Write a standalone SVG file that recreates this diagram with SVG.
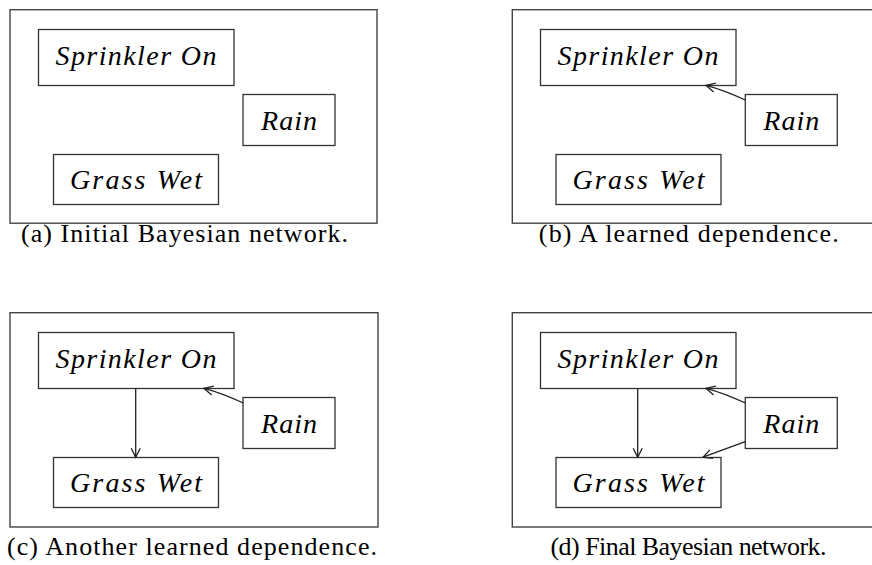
<svg xmlns="http://www.w3.org/2000/svg" width="872" height="565" viewBox="0 0 872 565">
  <style>
    .frame { fill: none; stroke: #444; stroke-width: 1.4; }
    .box { fill: #fff; stroke: #333; stroke-width: 1.3; }
    .lbl { font-family: "Liberation Serif", "DejaVu Serif", serif; font-style: italic; font-size: 28px; fill: #000; text-anchor: middle; }
    .cap { font-family: "Liberation Serif", "DejaVu Serif", serif; font-size: 26px; fill: #000; text-anchor: middle; }
    .edge { fill: none; stroke: #222; stroke-width: 1.3; marker-end: url(#vee); }
  </style>
  <defs>
    <marker id="vee" markerUnits="userSpaceOnUse" markerWidth="14" markerHeight="12" viewBox="-11 -6 13 12" refX="0" refY="0" orient="auto">
      <path d="M-9,-4.5 L0,0 L-9,4.5" fill="none" stroke="#222" stroke-width="1.3"/>
    </marker>
  </defs>

  <!-- (a) initial network -->
  <g id="panel-a">
    <rect class="frame" x="10" y="9.7" width="367" height="213.5"/>
    <g id="a-sprinkler"><rect class="box" x="38.5" y="29.5" width="195.5" height="56"/><text class="lbl" x="136" y="65" textLength="161" lengthAdjust="spacing">Sprinkler On</text></g>
    <g id="a-rain"><rect class="box" x="243" y="94.5" width="92" height="51"/><text class="lbl" x="289" y="130" textLength="56" lengthAdjust="spacing">Rain</text></g>
    <g id="a-grass"><rect class="box" x="53.5" y="154.5" width="165" height="50"/><text class="lbl" x="136" y="189" textLength="132" lengthAdjust="spacing">Grass Wet</text></g>
    <text class="cap" x="184.5" y="242" textLength="327" lengthAdjust="spacing">(a) Initial Bayesian network.</text>
  </g>

  <!-- (b) one learned dependence -->
  <g id="panel-b" transform="translate(502,0)">
    <rect class="frame" x="10.3" y="9.7" width="367" height="213.5"/>
    <g id="b-sprinkler"><rect class="box" x="38.5" y="29.5" width="195.5" height="56"/><text class="lbl" x="136" y="65" textLength="161" lengthAdjust="spacing">Sprinkler On</text></g>
    <g id="b-rain"><rect class="box" x="243.3" y="94.5" width="92" height="51"/><text class="lbl" x="289.3" y="130" textLength="56" lengthAdjust="spacing">Rain</text></g>
    <g id="b-grass"><rect class="box" x="54" y="154.5" width="165" height="50"/><text class="lbl" x="136.5" y="189" textLength="132" lengthAdjust="spacing">Grass Wet</text></g>
    <g class="connectors">
      <path class="edge" d="M243.3,100 Q222,90 204,85.3"/>
    </g>
    <text class="cap" x="186.8" y="242" textLength="300" lengthAdjust="spacing">(b) A learned dependence.</text>
  </g>

  <!-- (c) a second learned dependence -->
  <g id="panel-c" transform="translate(0,303)">
    <rect class="frame" x="10" y="9.7" width="368" height="214.3"/>
    <g id="c-sprinkler"><rect class="box" x="38.5" y="29.5" width="195.5" height="56"/><text class="lbl" x="136" y="65" textLength="161" lengthAdjust="spacing">Sprinkler On</text></g>
    <g id="c-rain"><rect class="box" x="243" y="94.5" width="92" height="51"/><text class="lbl" x="289" y="130" textLength="56" lengthAdjust="spacing">Rain</text></g>
    <g id="c-grass"><rect class="box" x="53.5" y="154.5" width="165" height="50"/><text class="lbl" x="136" y="189" textLength="132" lengthAdjust="spacing">Grass Wet</text></g>
    <g class="connectors">
      <path class="edge" d="M243.3,100 Q222,90 204,85.3"/>
      <path class="edge" d="M135.7,85.5 L135.7,154.2"/>
    </g>
    <text class="cap" x="192" y="252" textLength="370" lengthAdjust="spacing">(c) Another learned dependence.</text>
  </g>

  <!-- (d) final network -->
  <g id="panel-d" transform="translate(502,303)">
    <rect class="frame" x="10.3" y="9.7" width="368" height="214.3"/>
    <g id="d-sprinkler"><rect class="box" x="38.5" y="29.5" width="195.5" height="56"/><text class="lbl" x="136" y="65" textLength="161" lengthAdjust="spacing">Sprinkler On</text></g>
    <g id="d-rain"><rect class="box" x="243.3" y="94.5" width="92" height="51"/><text class="lbl" x="289.3" y="130" textLength="56" lengthAdjust="spacing">Rain</text></g>
    <g id="d-grass"><rect class="box" x="54" y="154.5" width="165" height="50"/><text class="lbl" x="136.5" y="189" textLength="132" lengthAdjust="spacing">Grass Wet</text></g>
    <g class="connectors">
      <path class="edge" d="M243.3,100 Q222,90 204,85.3"/>
      <path class="edge" d="M135.7,85.5 L135.7,154.2"/>
      <path class="edge" d="M243.3,138.7 L201,154.2"/>
    </g>
    <text class="cap" x="186.5" y="252" textLength="276" lengthAdjust="spacing">(d) Final Bayesian network.</text>
  </g>
</svg>
